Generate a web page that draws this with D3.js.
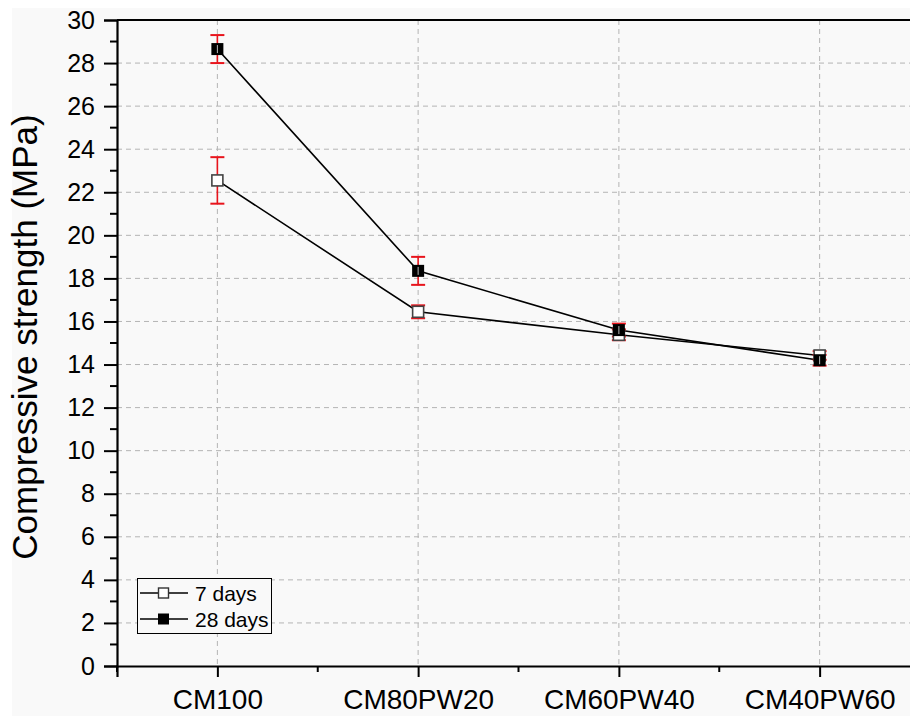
<!DOCTYPE html>
<html>
<head>
<meta charset="utf-8">
<script src="https://cdn.jsdelivr.net/npm/d3@7"></script>
<style>
html,body{margin:0;padding:0;background:#fff;}
svg{display:block;}
text{font-family:"Liberation Sans",Arial,sans-serif;fill:#000;}
</style>
</head>
<body>
<div id="chart"></div>
<script>
const categories = ["CM100", "CM80PW20", "CM60PW40", "CM40PW60"];
const seriesNames = ["7 days", "28 days"];
const days7 = [22.55, 16.45, 15.38, 14.42];
const days7Err = [1.08, 0.3, 0.25, 0.2];
const days28 = [28.65, 18.35, 15.6, 14.2];
const days28Err = [0.65, 0.65, 0.3, 0.25];
const yTicks = [0,2,4,6,8,10,12,14,16,18,20,22,24,26,28,30];
const yTitle = "Compressive strength (MPa)";

const W = 910, H = 716;
const svg = d3.select("#chart").append("svg").attr("width", W).attr("height", H);

svg.append("rect").attr("x", 12).attr("y", 8).attr("width", W - 12).attr("height", H - 8).attr("fill", "#f9f9f9");

const x = d3.scaleLinear().domain([-0.5, categories.length - 0.5]).range([117, 920]);
const y = d3.scaleLinear().domain([0, 30]).range([666, 20]);

// grid
const g = svg.append("g");
g.selectAll(".hg").data(yTicks.filter(t => t > 0 && t < 30)).join("line")
  .attr("x1", x(-0.5)).attr("x2", W).attr("y1", d => y(d)).attr("y2", d => y(d))
  .attr("stroke", "#b4b4b4").attr("stroke-width", 1).attr("stroke-dasharray", "5,4");
g.selectAll(".vg").data(categories).join("line")
  .attr("x1", (d, i) => x(i)).attr("x2", (d, i) => x(i)).attr("y1", y(30)).attr("y2", y(0))
  .attr("stroke", "#b4b4b4").attr("stroke-width", 1).attr("stroke-dasharray", "5,4");

// y axis
const yAxis = d3.axisLeft(y).tickValues(yTicks).tickSize(13).tickPadding(9).tickFormat(d3.format("d"));
const ya = svg.append("g").attr("transform", `translate(${x(-0.5)},0)`).call(yAxis);
ya.select(".domain").attr("stroke", "#000").attr("stroke-width", 2.2);
ya.selectAll(".tick line").attr("stroke", "#000").attr("stroke-width", 2);
ya.selectAll(".tick text").style("font-size", "25px").style("font-family", "Liberation Sans, Arial, sans-serif");
const yMinor = d3.range(1, 30, 2);
svg.append("g").selectAll("line").data(yMinor).join("line")
  .attr("x1", x(-0.5) - 7).attr("x2", x(-0.5)).attr("y1", d => y(d)).attr("y2", d => y(d))
  .attr("stroke", "#000").attr("stroke-width", 2);

// x axis
const xAxis = d3.axisBottom(x).tickValues(d3.range(categories.length)).tickSize(11).tickPadding(12)
  .tickFormat(i => categories[i]);
const xa = svg.append("g").attr("transform", `translate(0,${y(0)})`).call(xAxis);
xa.select(".domain").attr("stroke", "#000").attr("stroke-width", 2.2);
xa.selectAll(".tick line").attr("stroke", "#000").attr("stroke-width", 2);
xa.selectAll(".tick text").style("font-size", "28px").style("font-family", "Liberation Sans, Arial, sans-serif");
const xMinor = d3.range(-0.5, categories.length, 1);
svg.append("g").selectAll("line").data(xMinor).join("line")
  .attr("x1", d => x(d)).attr("x2", d => x(d)).attr("y1", y(0)).attr("y2", y(0) + 6)
  .attr("stroke", "#000").attr("stroke-width", 2);

// top frame
svg.append("line").attr("x1", x(-0.5)).attr("x2", W).attr("y1", y(30)).attr("y2", y(30))
  .attr("stroke", "#000").attr("stroke-width", 2.2);

// y title
svg.append("text").attr("transform", `translate(37,${337}) rotate(-90)`)
  .attr("text-anchor", "middle").style("font-size", "35px").text(yTitle);

// series
const series = [
  {vals: days7, errs: days7Err, filled: false},
  {vals: days28, errs: days28Err, filled: true}
];
const line = d3.line().x((d, i) => x(i)).y(d => y(d));
series.forEach(s => {
  svg.append("path").attr("d", line(s.vals)).attr("fill", "none").attr("stroke", "#000").attr("stroke-width", 1.6);
});
series.forEach(s => {
  const eg = svg.append("g");
  s.vals.forEach((v, i) => {
    const cx = x(i);
    eg.append("line").attr("x1", cx).attr("x2", cx).attr("y1", y(v + s.errs[i])).attr("y2", y(v - s.errs[i]))
      .attr("stroke", "#e8141c").attr("stroke-width", 1.6);
    [v + s.errs[i], v - s.errs[i]].forEach(e => {
      eg.append("line").attr("x1", cx - 7).attr("x2", cx + 7).attr("y1", y(e)).attr("y2", y(e))
        .attr("stroke", "#e8141c").attr("stroke-width", 2);
    });
  });
});
series.forEach(s => {
  const mg = svg.append("g");
  s.vals.forEach((v, i) => {
    const cx = x(i), cy = y(v);
    if (s.filled) {
      mg.append("rect").attr("x", cx - 6).attr("y", cy - 6).attr("width", 12).attr("height", 12).attr("fill", "#000");
      mg.append("line").attr("x1", cx).attr("x2", cx).attr("y1", cy - 4).attr("y2", cy + 4)
        .attr("stroke", "#bbb").attr("stroke-width", 1);
    } else {
      mg.append("rect").attr("x", cx - 5.5).attr("y", cy - 5.5).attr("width", 11).attr("height", 11)
        .attr("fill", "#fff").attr("stroke", "#444").attr("stroke-width", 1.6);
    }
  });
});

// legend
const lg = svg.append("g");
lg.append("rect").attr("x", 137.5).attr("y", 578.5).attr("width", 134).attr("height", 55)
  .attr("fill", "#f9f9f9").attr("stroke", "#000").attr("stroke-width", 1);
seriesNames.forEach((name, i) => {
  const ly = 593 + i * 26;
  lg.append("line").attr("x1", 140).attr("x2", 188).attr("y1", ly).attr("y2", ly).attr("stroke", "#000").attr("stroke-width", 1.5);
  if (i === 0) {
    lg.append("rect").attr("x", 158.5).attr("y", ly - 5).attr("width", 10).attr("height", 10)
      .attr("fill", "#fff").attr("stroke", "#333").attr("stroke-width", 1.4);
  } else {
    lg.append("rect").attr("x", 158).attr("y", ly - 5.5).attr("width", 11).attr("height", 11).attr("fill", "#000");
  }
  lg.append("text").attr("x", 195).attr("y", ly + 7.5).style("font-size", "21px").text(name);
});
</script>
</body>
</html>
